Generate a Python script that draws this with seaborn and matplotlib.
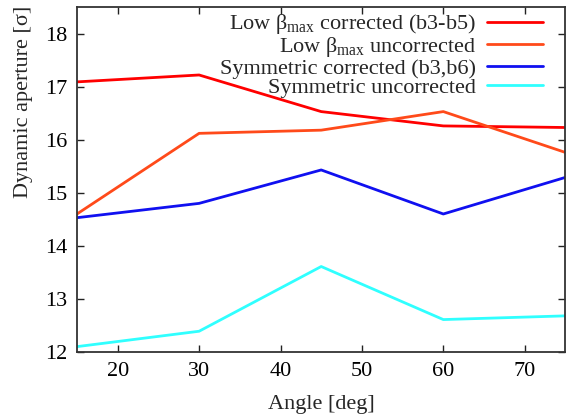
import matplotlib
matplotlib.use('Agg')
import matplotlib.pyplot as plt
import seaborn as sns
import pandas as pd

angle = [15, 30, 45, 60, 75]
low_beta_corr = [17.09, 17.22, 16.53, 16.26, 16.23]
low_beta_uncorr = [14.60, 16.12, 16.18, 16.53, 15.76]
sym_corr = [14.53, 14.80, 15.43, 14.60, 15.29]
sym_uncorr = [12.10, 12.39, 13.61, 12.61, 12.68]

labels = [r'Low β$_{\mathrm{max}}$ corrected (b3-b5)',
          r'Low β$_{\mathrm{max}}$ uncorrected',
          'Symmetric corrected (b3,b6)',
          'Symmetric uncorrected']
colors = ['#ff0000', '#ff4a1a', '#1010f0', '#30ffff']

sns.set_style('ticks')
plt.rcParams['font.family'] = ['Liberation Serif', 'DejaVu Serif']
plt.rcParams['mathtext.fontset'] = 'custom'
plt.rcParams['mathtext.rm'] = 'Liberation Serif'
plt.rcParams['mathtext.it'] = 'Liberation Serif:italic'

df = pd.DataFrame({'angle': angle})
df['s0'] = low_beta_corr
df['s1'] = low_beta_uncorr
df['s2'] = sym_corr
df['s3'] = sym_uncorr

fig = plt.figure(figsize=(5.66, 4.16), dpi=100)
ax = fig.add_axes([0.136, 0.154, 0.863, 0.829])

for i in range(4):
    sns.lineplot(x='angle', y='s%d' % i, data=df, color=colors[i], lw=2,
                 label=labels[i], ax=ax)

ax.set_xlim(15, 75)
ax.set_ylim(12, 18.5)
ax.set_xticks([20, 30, 40, 50, 60, 70])
ax.set_yticks([12, 13, 14, 15, 16, 17, 18])
ax.tick_params(direction='in', top=True, right=True, labelsize=16, length=5,
               width=1, colors='#222222', labelcolor='black', pad=7)
for sp in ax.spines.values():
    sp.set_linewidth(1.3)
    sp.set_color('#333333')
ax.set_xlabel('Angle [deg]', fontsize=16, labelpad=10)
ax.set_ylabel('Dynamic aperture [σ]', fontsize=16)
ax.yaxis.set_label_coords(-0.09, 0.725)

ax.legend(loc='upper right', bbox_to_anchor=(0.985, 1.03), frameon=False,
          markerfirst=False, fontsize=16, handlelength=2.5, labelspacing=-0.05,
          handletextpad=0.5, borderpad=0.2)

plt.savefig('out.png', dpi=100)
